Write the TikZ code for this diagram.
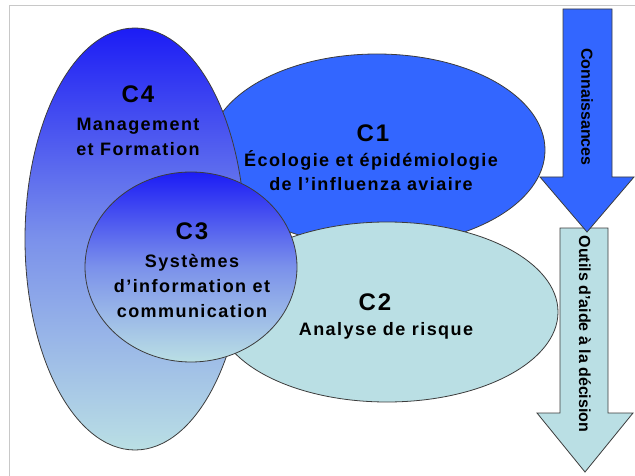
\documentclass[tikz,border=0pt]{standalone}
\usepackage{fontspec}
\setmainfont{Liberation Sans}
\newfontfamily\lblfont{Liberation Sans}[LetterSpace=8]
\usetikzlibrary{shapes.geometric}
\definecolor{cblue}{RGB}{51,102,255}
\definecolor{ccyan}{RGB}{186,223,228}
\definecolor{cdeep}{RGB}{28,28,245}
\definecolor{cedge}{RGB}{60,60,60}
\definecolor{cframe}{RGB}{200,200,200}
\tikzset{
  blob/.style={ellipse, draw=cedge, line width=0.8pt, inner sep=0pt},
  grad/.style={top color=cdeep, bottom color=ccyan, middle color=cdeep!40!ccyan},
  title/.style={anchor=base, font=\lblfont\bfseries\fontsize{24}{26}\selectfont},
  body/.style={anchor=base, font=\lblfont\bfseries\fontsize{18}{20}\selectfont},
  arrowtext/.style={rotate=-90, font=\bfseries\fontsize{16}{18}\selectfont},
  bigarrow/.style={draw=cedge, line width=0.8pt}
}
\begin{document}
\begin{tikzpicture}[x=1pt,y=-1pt]
\useasboundingbox (0,0) rectangle (635,476);
% frame
\draw[cframe, line width=1pt] (9,476) -- (9,6) -- (635,6);
% ellipses
\node[blob, fill=cblue, minimum width=336pt, minimum height=192pt] (c1) at (377,150) {};
\node[blob, fill=ccyan, minimum width=342pt, minimum height=180pt] (c2) at (387,312) {};
\node[blob, grad, minimum width=220pt, minimum height=422pt] (c4) at (135,239) {};
\node[blob, grad, minimum width=212pt, minimum height=190pt] (c3) at (191,267) {};
% arrows
\draw[bigarrow, fill=ccyan] (560,228) -- (608,228) -- (608,413) -- (633,413) -- (585,472) -- (537,413) -- (560,413) -- cycle;
\draw[bigarrow, fill=cblue] (563,9) -- (612,9) -- (612,177) -- (634,177) -- (587,232) -- (540,177) -- (563,177) -- cycle;
\node[arrowtext] (t1) at (587,107) {Connaissances};
\node[arrowtext] (t2) at (585,334) {Outils d'aide à la décision};
% labels
\node[title] (c4a) at (138,103) {C4};
\node[body] (c4b) at (138,131) {Management};
\node[body] (c4c) at (138,156) {et Formation};
\node[title] (c1a) at (373,142) {C1};
\node[body] (c1b) at (371,167) {Écologie et épidémiologie};
\node[body] (c1c) at (371,190) {de l’influenza aviaire};
\node[title] (c3a) at (192,240) {C3};
\node[body] (c3b) at (192,267) {Systèmes};
\node[body] (c3c) at (192,292) {d’information et};
\node[body] (c3d) at (192,317) {communication};
\node[title] (c2a) at (375,310) {C2};
\node[body] (c2b) at (386,335) {Analyse de risque};
\end{tikzpicture}
\end{document}
